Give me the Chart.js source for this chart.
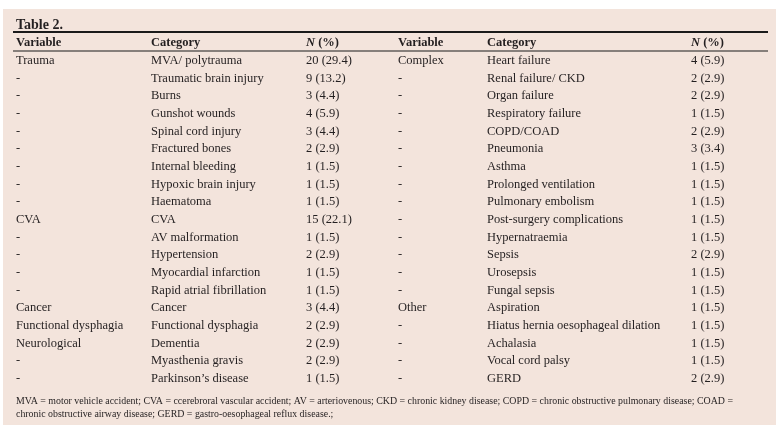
<!DOCTYPE html>
<html>
<head>
<meta charset="utf-8">
<script src="https://cdn.jsdelivr.net/npm/chart.js@4"></script>
<style>
  html, body { margin: 0; padding: 0; background: #fff; }
  #wrap { width: 784px; height: 434px; }
</style>
</head>
<body>
<div id="wrap"><canvas id="table-chart" width="784" height="434"></canvas></div>
<script>
const TITLE = 'Table 2.';
const HEADERS = ['Variable', 'Category', 'N (%)', 'Variable', 'Category', 'N (%)'];

const LEFT_VARIABLES = ['Trauma', '-', '-', '-', '-', '-', '-', '-', '-', 'CVA', '-', '-', '-', '-',
  'Cancer', 'Functional dysphagia', 'Neurological', '-', '-'];
const LEFT_CATEGORIES = ['MVA/ polytrauma', 'Traumatic brain injury', 'Burns', 'Gunshot wounds',
  'Spinal cord injury', 'Fractured bones', 'Internal bleeding', 'Hypoxic brain injury', 'Haematoma',
  'CVA', 'AV malformation', 'Hypertension', 'Myocardial infarction', 'Rapid atrial fibrillation',
  'Cancer', 'Functional dysphagia', 'Dementia', 'Myasthenia gravis', 'Parkinson\u2019s disease'];
const LEFT_N = [20, 9, 3, 4, 3, 2, 1, 1, 1, 15, 1, 2, 1, 1, 3, 2, 2, 2, 1];
const LEFT_PCT = [29.4, 13.2, 4.4, 5.9, 4.4, 2.9, 1.5, 1.5, 1.5, 22.1, 1.5, 2.9, 1.5, 1.5, 4.4, 2.9, 2.9, 2.9, 1.5];

const RIGHT_VARIABLES = ['Complex', '-', '-', '-', '-', '-', '-', '-', '-', '-', '-', '-', '-', '-',
  'Other', '-', '-', '-', '-'];
const RIGHT_CATEGORIES = ['Heart failure', 'Renal failure/ CKD', 'Organ failure', 'Respiratory failure',
  'COPD/COAD', 'Pneumonia', 'Asthma', 'Prolonged ventilation', 'Pulmonary embolism',
  'Post-surgery complications', 'Hypernatraemia', 'Sepsis', 'Urosepsis', 'Fungal sepsis',
  'Aspiration', 'Hiatus hernia oesophageal dilation', 'Achalasia', 'Vocal cord palsy', 'GERD'];
const RIGHT_N = [4, 2, 2, 1, 2, 3, 1, 1, 1, 1, 1, 2, 1, 1, 1, 1, 1, 1, 2];
const RIGHT_PCT = [5.9, 2.9, 2.9, 1.5, 2.9, 3.4, 1.5, 1.5, 1.5, 1.5, 1.5, 2.9, 1.5, 1.5, 1.5, 1.5, 1.5, 1.5, 2.9];

const FOOTNOTE = [
  'MVA = motor vehicle accident; CVA = ccerebroral vascular accident; AV = arteriovenous; CKD = chronic kidney disease; COPD = chronic obstructive pulmonary disease; COAD =',
  'chronic obstructive airway disease; GERD = gastro-oesophageal reflux disease.;'
];

// layout (pixels on the x scale, which runs 0..784)
const COL_X = [16, 151, 306, 398, 487, 691];
const SERIF = '"Liberation Serif", "DejaVu Serif", serif';
const INK = '#231f20';

const fmt = (n, p) => `${n} (${p.toFixed(1)})`;
const columns = [
  LEFT_VARIABLES,
  LEFT_CATEGORIES,
  LEFT_N.map((n, i) => fmt(n, LEFT_PCT[i])),
  RIGHT_VARIABLES,
  RIGHT_CATEGORIES,
  RIGHT_N.map((n, i) => fmt(n, RIGHT_PCT[i]))
];
const rowCount = LEFT_CATEGORIES.length;

const tableFrame = {
  id: 'tableFrame',
  beforeDraw(chart) {
    const { ctx } = chart;
    const x = chart.scales.x;
    ctx.save();
    ctx.fillStyle = '#fff';
    ctx.fillRect(0, 0, chart.width, chart.height);
    ctx.fillStyle = '#f3e4dc';
    ctx.fillRect(3, 9, 773, 416);

    ctx.fillStyle = INK;
    ctx.textBaseline = 'alphabetic';
    ctx.font = `bold 14px ${SERIF}`;
    ctx.fillText(TITLE, 16, 28.5);

    ctx.fillStyle = '#1a1a1a';
    ctx.fillRect(13, 31, 755, 2);
    ctx.fillRect(13, 50.5, 755, 1);

    ctx.fillStyle = INK;
    HEADERS.forEach((h, c) => {
      const px = x.getPixelForValue(COL_X[c]);
      if (h.startsWith('N ')) {
        ctx.font = `italic bold 12.5px ${SERIF}`;
        ctx.fillText('N', px, 46);
        const w = ctx.measureText('N ').width;
        ctx.font = `bold 12.5px ${SERIF}`;
        ctx.fillText('(%)', px + w, 46);
      } else {
        ctx.font = `bold 12.5px ${SERIF}`;
        ctx.fillText(h, px, 46);
      }
    });
    ctx.restore();
  },
  afterDatasetsDraw(chart) {
    const { ctx } = chart;
    ctx.save();
    ctx.fillStyle = INK;
    ctx.textBaseline = 'alphabetic';
    ctx.font = `12.5px ${SERIF}`;
    chart.data.datasets.forEach((ds, c) => {
      chart.getDatasetMeta(c).data.forEach((pt, i) => {
        ctx.fillText(ds.texts[i], pt.x, pt.y + 4);
      });
    });
    ctx.font = `9.9px ${SERIF}`;
    ctx.fillText(FOOTNOTE[0], 16, 403.5, 717);
    ctx.fillText(FOOTNOTE[1], 16, 416.5);
    ctx.restore();
  }
};

new Chart(document.getElementById('table-chart'), {
  type: 'scatter',
  data: {
    datasets: columns.map((texts, c) => ({
      label: HEADERS[c],
      texts,
      data: texts.map((_, i) => ({ x: COL_X[c], y: i })),
      pointRadius: 0,
      pointHoverRadius: 0
    }))
  },
  options: {
    responsive: false,
    animation: false,
    devicePixelRatio: 1,
    layout: { padding: { left: 0, right: 0, top: 51, bottom: 47 } },
    scales: {
      x: { type: 'linear', min: 0, max: 784, display: false },
      y: { type: 'linear', min: -0.5, max: rowCount - 0.5, reverse: true, display: false }
    },
    plugins: { legend: { display: false }, tooltip: { enabled: false } },
    events: []
  },
  plugins: [tableFrame]
});
</script>
</body>
</html>
